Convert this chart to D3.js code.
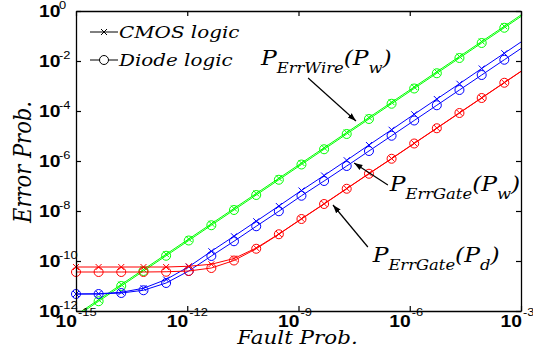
<!DOCTYPE html>
<html>
<head>
<meta charset="utf-8">
<script src="https://cdn.jsdelivr.net/npm/d3@7"></script>
<style>
    body { margin: 0; background: #fff; }
</style>
</head>
<body>
<div id="chart"></div>
<script>
// Error probability vs fault probability (log-log)
// all values are powers of ten

const faultExp = [-15.00, -14.39, -13.78, -13.18, -12.57, -11.96, -11.35, -10.74, -10.14, -9.53, -8.92,
                  -8.31, -7.70, -7.10, -6.49, -5.88, -5.27, -4.66, -4.06, -3.45, -2.84];

const wireCmos   = [-12.16, -11.55, -10.94, -10.34, -9.73, -9.12, -8.51, -7.90, -7.30, -6.69, -6.08,
                    -5.47, -4.86, -4.26, -3.65, -3.04, -2.43, -1.82, -1.22, -0.61, 0.00];
const wireDiode  = [-12.22, -11.61, -11.00, -10.40, -9.79, -9.18, -8.57, -7.96, -7.36, -6.75, -6.14,
                    -5.53, -4.92, -4.32, -3.71, -3.10, -2.49, -1.88, -1.28, -0.67, -0.06];
const gateWCmos  = [-11.32, -11.31, -11.25, -11.09, -10.74, -10.23, -9.61, -9.01, -8.41, -7.80, -7.18,
                    -6.58, -5.97, -5.36, -4.75, -4.13, -3.52, -2.91, -2.30, -1.69, -1.08];
const gateWDiode = [-11.32, -11.32, -11.28, -11.17, -10.88, -10.40, -9.80, -9.21, -8.61, -8.01, -7.39,
                    -6.80, -6.20, -5.60, -4.99, -4.38, -3.77, -3.16, -2.56, -1.95, -1.34];
const gateDCmos  = [-10.24, -10.24, -10.24, -10.24, -10.24, -10.21, -10.13, -9.90, -9.48, -8.92, -8.31,
                    -7.71, -7.10, -6.50, -5.90, -5.29, -4.68, -4.07, -3.47, -2.86, -2.25];
const gateDDiode = [-10.44, -10.44, -10.44, -10.44, -10.43, -10.40, -10.28, -9.98, -9.51, -8.93, -8.32,
                    -7.72, -7.11, -6.51, -5.91, -5.30, -4.69, -4.08, -3.48, -2.87, -2.26];

const xTickExp = [-15, -12, -9, -6, -3];
const yTickExp = [0, -2, -4, -6, -8, -10, -12];

const legendLabels = ['CMOS logic', 'Diode logic'];

const series = [
    {values: wireCmos,   color: '#00ff00', marker: 'x'},
    {values: wireDiode,  color: '#00ff00', marker: 'o'},
    {values: gateWCmos,  color: '#0000ff', marker: 'x'},
    {values: gateWDiode, color: '#0000ff', marker: 'o'},
    {values: gateDCmos,  color: '#ff0000', marker: 'x'},
    {values: gateDDiode, color: '#ff0000', marker: 'o'}
];

// annotations, in data exponents: label spot and arrow from -> to
const notes = [
    {sub: 'ErrWire', arg: 'w', at: [-10.01, -2.16], from: [-8.74, -2.68], to: [-7.45, -4.40]},
    {sub: 'ErrGate', arg: 'w', at: [-6.54, -7.19], from: [-6.59, -6.96], to: [-7.50, -6.08]},
    {sub: 'ErrGate', arg: 'd', at: [-7.00, -10.04], from: [-7.13, -9.44], to: [-8.07, -7.76]}
];

const width = 533, height = 362;
const margin = {top: 11, right: 12, bottom: 51, left: 76};
const plotW = width - margin.left - margin.right;
const plotH = height - margin.top - margin.bottom;
const SX = 1.17; // picture is a bit wider than tall, text too

const svg = d3.select('#chart').append('svg')
    .attr('width', width)
    .attr('height', height);

const g = svg.append('g')
    .attr('transform', `translate(${margin.left},${margin.top})`);

const x = d3.scaleLog().domain([1e-15, 1e-3]).range([0, plotW]);
const y = d3.scaleLog().domain([1e-12, 1]).range([plotH, 0]);
const px = e => x(Math.pow(10, e));
const py = e => y(Math.pow(10, e));

svg.append('defs').call(defs => {
    defs.append('clipPath').attr('id', 'plot-clip')
        .append('rect').attr('width', plotW).attr('height', plotH);
    defs.append('marker')
        .attr('id', 'arrow')
        .attr('viewBox', '0 0 10 10')
        .attr('refX', 10).attr('refY', 5)
        .attr('markerWidth', 7).attr('markerHeight', 7)
        .attr('orient', 'auto')
        .append('path').attr('d', 'M0,1.5L10,5L0,8.5Z').attr('fill', '#000');
});

// lines
const line = d3.line()
    .x((d, i) => px(faultExp[i]))
    .y(d => py(d));

const plot = g.append('g');

series.forEach(s => {
    plot.append('path')
        .attr('clip-path', 'url(#plot-clip)')
        .attr('d', line(s.values))
        .attr('fill', 'none')
        .attr('stroke', s.color)
        .attr('stroke-width', 1);

    const pts = s.values.map((v, i) => [faultExp[i], v])
        .filter(p => p[0] <= -3 + 1e-9 && p[1] >= -12 - 1e-9 && p[1] <= 0);

    const m = plot.selectAll(null).data(pts).enter();
    if (s.marker === 'o') {
        m.append('circle')
            .attr('cx', p => px(p[0]))
            .attr('cy', p => py(p[1]))
            .attr('r', 4.5)
            .attr('fill', 'none')
            .attr('stroke', s.color)
            .attr('stroke-width', 1);
    } else {
        m.append('path')
            .attr('transform', p => `translate(${px(p[0])},${py(p[1])})`)
            .attr('d', 'M-3,-3L3,3M-3,3L3,-3')
            .attr('stroke', s.color)
            .attr('stroke-width', 1);
    }
});

// box with inward ticks
const axes = [
    [d3.axisBottom(x).tickValues(xTickExp.map(e => Math.pow(10, e))), `translate(0,${plotH})`],
    [d3.axisTop(x).tickValues(xTickExp.map(e => Math.pow(10, e))), 'translate(0,0)'],
    [d3.axisLeft(y).tickValues(yTickExp.map(e => Math.pow(10, e))), 'translate(0,0)'],
    [d3.axisRight(y).tickValues(yTickExp.map(e => Math.pow(10, e))), `translate(${plotW},0)`]
];
axes.forEach(([ax, tr]) => {
    const a = g.append('g')
        .attr('transform', tr)
        .call(ax.tickSize(-5).tickSizeOuter(0).tickFormat(''));
    a.select('.domain').attr('stroke', '#000').attr('stroke-width', 1.3);
    a.selectAll('.tick line').attr('stroke', '#000').attr('stroke-width', 1.2);
});

// stretched text helper
function label(parent, tx, ty, str, opts) {
    const t = parent.append('text')
        .attr('transform', `translate(${tx},${ty}) scale(${SX},1)` + (opts.rotate ? ` rotate(${opts.rotate})` : ''))
        .attr('text-anchor', opts.anchor || 'start')
        .style('font-family', opts.family)
        .style('font-size', opts.size + 'px')
        .style('font-weight', opts.weight || 'normal')
        .style('font-style', opts.style || 'normal')
        .attr('fill', '#000')
        .text(str);
    if (opts.len) t.attr('textLength', opts.len).attr('lengthAdjust', 'spacingAndGlyphs');
    return t;
}

const sans = '"Liberation Sans", Arial, sans-serif';
const serif = '"DejaVu Serif", serif';

// tick labels as 10 with a raised exponent
yTickExp.forEach(e => {
    const ty = py(e);
    label(g, -37, ty + 6, '10', {family: sans, size: 16.5, weight: 'bold'});
    label(g, -17, ty - 2.5, String(e), {family: sans, size: 11});
});
xTickExp.forEach(e => {
    const tx = px(e);
    label(g, tx + 1, plotH + 15.5, '10', {family: sans, size: 16.5, weight: 'bold', anchor: 'end'});
    label(g, tx + 2, plotH + 5, String(e), {family: sans, size: 11});
});

// axis titles
label(g, plotW / 2 - 1, plotH + 32.5, 'Fault Prob.', {family: serif, size: 18.5, style: 'italic', anchor: 'middle', len: 103});
label(g, -45, plotH / 2 + 1, 'Error Prob.', {family: serif, size: 21, style: 'italic', anchor: 'middle', rotate: -90, len: 122});

// legend, no box
legendLabels.forEach((name, i) => {
    const ly = 21 + i * 28;
    const lg = g.append('g').attr('transform', `translate(14,${ly})`);
    lg.append('line').attr('x1', 0).attr('x2', 28).attr('stroke', '#000').attr('stroke-width', 1);
    if (i === 0) {
        lg.append('path').attr('d', 'M11,-3L17,3M11,3L17,-3').attr('stroke', '#000');
    } else {
        lg.append('circle').attr('cx', 14).attr('r', 4.5).attr('fill', '#fff').attr('stroke', '#000');
    }
    label(lg, 29, 6, name, {family: serif, size: 17, style: 'italic'});
});

// annotations
notes.forEach(n => {
    g.append('line')
        .attr('x1', px(n.from[0])).attr('y1', py(n.from[1]))
        .attr('x2', px(n.to[0])).attr('y2', py(n.to[1]))
        .attr('stroke', '#000')
        .attr('stroke-width', 1.2)
        .attr('marker-end', 'url(#arrow)');

    const t = label(g, px(n.at[0]), py(n.at[1]), '', {family: serif, size: 20, style: 'italic'});
    t.append('tspan').text('P');
    t.append('tspan').attr('dy', 8).style('font-size', '14px').text(n.sub);
    t.append('tspan').attr('dy', -8).text('(P');
    t.append('tspan').attr('dy', 8).style('font-size', '14px').text(n.arg);
    t.append('tspan').attr('dy', -8).text(')');
});
</script>
</body>
</html>
